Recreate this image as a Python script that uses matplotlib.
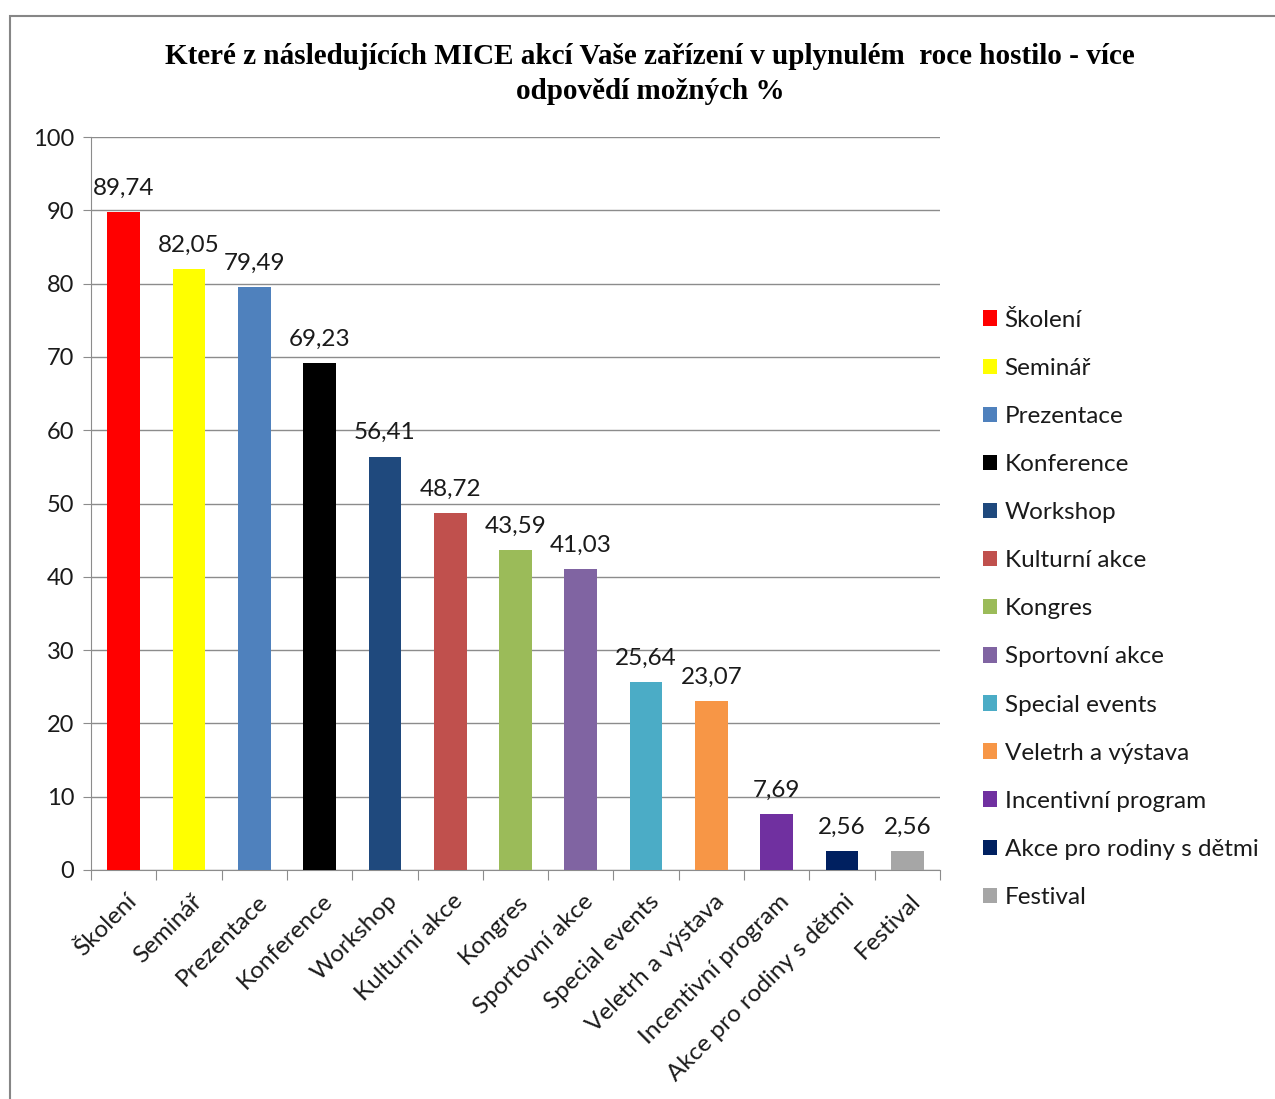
import matplotlib
matplotlib.use("Agg")
import matplotlib.pyplot as plt
from matplotlib.patches import Patch, Rectangle

categories = ["Školení", "Seminář", "Prezentace", "Konference", "Workshop",
              "Kulturní akce", "Kongres", "Sportovní akce", "Special events",
              "Veletrh a výstava", "Incentivní program", "Akce pro rodiny s dětmi",
              "Festival"]
values = [89.74, 82.05, 79.49, 69.23, 56.41, 48.72, 43.59, 41.03, 25.64, 23.07,
          7.69, 2.56, 2.56]
value_labels = ["89,74", "82,05", "79,49", "69,23", "56,41", "48,72", "43,59",
                "41,03", "25,64", "23,07", "7,69", "2,56", "2,56"]
colors = ["#FF0000", "#FFFF00", "#4F81BD", "#000000", "#1F497D", "#C0504D",
          "#9BBB59", "#8064A2", "#4BACC6", "#F79646", "#7030A0", "#002060",
          "#A6A6A6"]
yticks = [0, 10, 20, 30, 40, 50, 60, 70, 80, 90, 100]
title = "Které z následujících MICE akcí Vaše zařízení v uplynulém  roce hostilo - více\nodpovědí možných %"

FONT = ["Lato", "DejaVu Sans"]
plt.rcParams['font.family'] = FONT
FS = 17.5

fig = plt.figure(figsize=(12.75, 10.99), dpi=100)
fig.patches.append(Rectangle((10/1275, -0.05), 1.2, (1099-16)/1099 + 0.05,
                             transform=fig.transFigure, fill=False,
                             edgecolor="#868686", linewidth=1.5))

ax = fig.add_axes([91/1275, 1 - 870/1099, (940-91)/1275, (870-137)/1099])
x = list(range(len(categories)))
bars = ax.bar(x, values, width=0.5, color=colors, zorder=3)
for xi, v, lab in zip(x, values, value_labels):
    ax.annotate(lab, (xi, v), xytext=(0, 9.5), textcoords="offset points",
                ha="center", va="bottom", fontsize=FS, color="#1a1a1a")

ax.set_xlim(-0.5, len(categories) - 0.5)
ax.set_ylim(0, 100)
ax.set_yticks(yticks)
ax.set_yticklabels([str(t) for t in yticks], fontsize=17, color="#1a1a1a")
ax.yaxis.grid(True, color="#8c8c8c", linewidth=1, zorder=0)
ax.tick_params(axis="y", length=6, color="#8c8c8c", pad=6)
ax.set_xticks([i + 0.5 for i in range(-1, len(categories))], minor=False)
ax.set_xticklabels([])
ax.tick_params(axis="x", length=7, color="#8c8c8c", direction="out")
for s in ["top", "right"]:
    ax.spines[s].set_visible(False)
ax.spines["left"].set_color("#8c8c8c")
ax.spines["bottom"].set_color("#8c8c8c")

for xi, c in zip(x, categories):
    ax.text(xi + 0.03, -2.8, c, rotation=45, rotation_mode="anchor",
            ha="right", va="top", fontsize=FS, color="#1a1a1a",
            transform=ax.transData)

fig.text(650/1275, 1 - 74/1099, title, ha="center", va="center",
         fontsize=21, fontweight="bold", family="Liberation Serif",
         linespacing=1.4)

handles = [Patch(facecolor=c, edgecolor="none") for c in colors]
leg = fig.legend(handles, categories, loc="upper left",
                 bbox_to_anchor=(973/1275, 1 - 300/1099), frameon=False,
                 fontsize=FS, handlelength=0.6, handleheight=0.6,
                 handletextpad=0.3, labelspacing=1.115, borderaxespad=0)
for t in leg.get_texts():
    t.set_color("#1a1a1a")

fig.savefig("out.png", dpi=100)
